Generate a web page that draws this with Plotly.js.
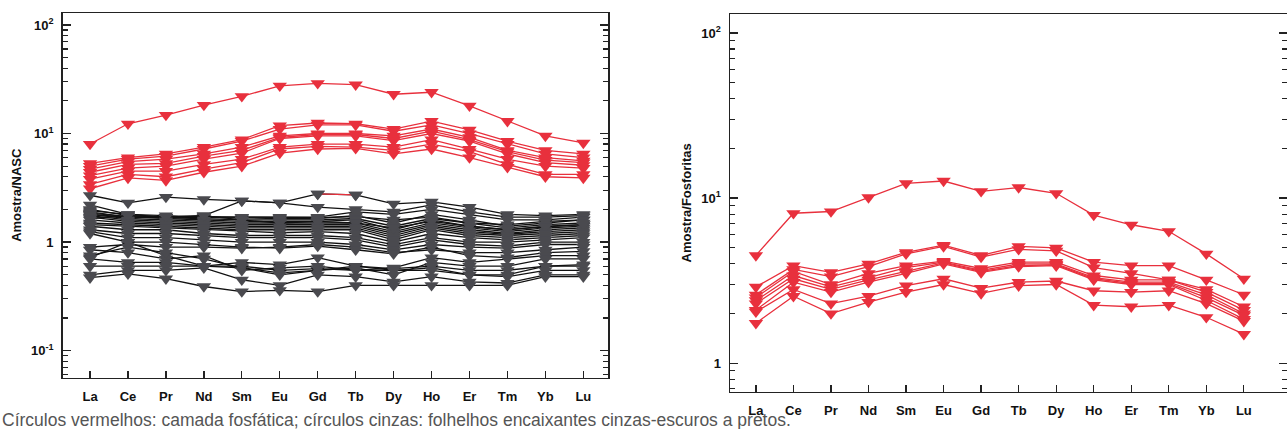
<!DOCTYPE html>
<html>
<head>
<meta charset="utf-8">
<script src="https://cdn.plot.ly/plotly-3.0.1.min.js"></script>
<style>
html,body{margin:0;padding:0;background:#fff;}
#chart{width:1287px;height:429px;}
</style>
</head>
<body>
<div id="chart"></div>
<script>
// Rare-earth elements (x categories)
const elements = ["La","Ce","Pr","Nd","Sm","Eu","Gd","Tb","Dy","Ho","Er","Tm","Yb","Lu"];

// Left panel: Amostra/NASC — phosphatic layer (red)
const nascRed1 = [8.0, 12.3, 14.8, 18.3, 22.0, 27.5, 29.0, 28.2, 23.0, 24.0, 18.0, 13.0, 9.5, 8.2];
const nascRed2 = [5.3, 6.0, 6.5, 7.5, 8.8, 11.8, 12.5, 12.3, 11.0, 13.0, 10.8, 8.5, 7.0, 6.5];
const nascRed3 = [5.0, 5.8, 6.2, 7.2, 8.5, 11.0, 12.0, 12.0, 10.5, 12.0, 10.0, 8.0, 6.5, 6.0];
const nascRed4 = [4.7, 5.5, 5.8, 6.5, 7.5, 9.5, 10.0, 10.0, 9.5, 11.0, 9.2, 7.0, 6.0, 5.6];
const nascRed5 = [4.4, 5.2, 5.3, 6.2, 7.0, 9.2, 9.8, 9.8, 9.0, 10.5, 8.8, 6.8, 5.7, 5.4];
const nascRed6 = [4.1, 4.8, 5.0, 5.8, 6.6, 9.0, 9.5, 9.5, 8.6, 10.0, 8.5, 6.5, 5.4, 5.1];
const nascRed7 = [3.8, 4.5, 4.5, 5.2, 5.8, 7.5, 8.0, 8.0, 7.5, 8.8, 7.2, 5.8, 5.0, 4.8];
const nascRed8 = [3.4, 4.2, 4.0, 4.7, 5.4, 7.2, 7.6, 7.5, 7.0, 8.0, 6.8, 5.2, 4.2, 4.2];
const nascRed9 = [3.1, 3.9, 3.7, 4.4, 5.0, 6.6, 7.2, 7.3, 6.5, 7.2, 6.0, 4.9, 4.0, 3.9];
const nascRedSeg = [null, null, null, null, null, null, 2.78, 2.72, null, null, null, null, null, null];

// Left panel: host shales (grey)
const nascGrey01 = [2.7, 2.3, 2.6, 2.47, 2.4, 2.3, 2.78, 2.72, 2.25, 2.35, 2.1, 1.8, 1.75, 1.8];
const nascGrey02 = [1.8, 1.7, 1.7, 1.75, 2.4, 2.3, 2.1, 2.0, 1.9, 2.2, 1.9, 1.7, 1.7, 1.75];
const nascGrey03 = [2.2, 1.8, 1.75, 1.7, 1.7, 1.7, 1.7, 1.9, 1.8, 2.0, 1.8, 1.6, 1.6, 1.7];
const nascGrey04 = [2.0, 1.75, 1.7, 1.68, 1.65, 1.65, 1.65, 1.75, 1.5, 1.8, 1.6, 1.4, 1.5, 1.6];
const nascGrey05 = [1.95, 1.8, 1.7, 1.72, 1.7, 1.68, 1.68, 1.72, 1.6, 1.7, 1.5, 1.45, 1.55, 1.6];
const nascGrey06 = [1.9, 1.7, 1.68, 1.65, 1.6, 1.6, 1.6, 1.65, 1.4, 1.65, 1.5, 1.35, 1.45, 1.5];
const nascGrey07 = [1.85, 1.72, 1.65, 1.6, 1.55, 1.55, 1.55, 1.6, 1.3, 1.6, 1.4, 1.3, 1.4, 1.45];
const nascGrey08 = [1.8, 1.65, 1.6, 1.55, 1.5, 1.5, 1.5, 1.5, 1.25, 1.5, 1.35, 1.25, 1.35, 1.4];
const nascGrey09 = [1.75, 1.6, 1.55, 1.5, 1.45, 1.45, 1.45, 1.45, 1.2, 1.45, 1.3, 1.2, 1.3, 1.35];
const nascGrey10 = [1.7, 1.55, 1.5, 1.45, 1.4, 1.4, 1.4, 1.4, 1.15, 1.4, 1.25, 1.18, 1.25, 1.3];
const nascGrey11 = [1.65, 1.75, 1.7, 1.75, 1.6, 1.5, 1.55, 1.5, 1.35, 1.55, 1.4, 1.3, 1.38, 1.45];
const nascGrey12 = [1.6, 1.5, 1.45, 1.4, 1.35, 1.35, 1.35, 1.35, 1.1, 1.35, 1.2, 1.15, 1.2, 1.25];
const nascGrey13 = [1.5, 1.45, 1.4, 1.35, 1.3, 1.3, 1.3, 1.3, 1.05, 1.3, 1.15, 1.1, 1.15, 1.2];
const nascGrey14 = [1.45, 1.4, 1.35, 1.3, 1.25, 1.22, 1.25, 1.2, 1.0, 1.2, 1.1, 1.05, 1.1, 1.15];
const nascGrey15 = [1.4, 1.3, 1.3, 1.2, 1.15, 1.15, 1.15, 1.1, 0.95, 1.1, 1.0, 1.0, 1.05, 1.1];
const nascGrey16 = [1.3, 1.2, 1.2, 1.15, 1.1, 1.1, 1.1, 1.05, 0.9, 1.05, 0.95, 0.92, 1.0, 1.0];
const nascGrey17 = [1.25, 1.1, 1.1, 1.05, 1.0, 1.0, 1.0, 0.95, 0.85, 0.95, 0.9, 0.88, 0.95, 0.95];
const nascGrey18 = [1.2, 1.0, 0.75, 0.6, 0.58, 0.52, 0.55, 0.6, 0.55, 0.58, 0.5, 0.5, 0.6, 0.62];
const nascGrey19 = [0.9, 0.95, 0.9, 0.9, 0.88, 0.9, 0.95, 0.9, 0.8, 0.85, 0.8, 0.8, 0.85, 0.9];
const nascGrey20 = [0.72, 1.0, 1.0, 0.95, 0.9, 0.88, 0.92, 0.85, 0.78, 0.9, 0.75, 0.72, 0.8, 0.82];
const nascGrey21 = [0.85, 0.8, 0.7, 0.75, 0.55, 0.58, 0.6, 0.55, 0.58, 0.72, 0.65, 0.7, 0.75, 0.75];
const nascGrey22 = [0.75, 0.9, 0.8, 0.7, 0.58, 0.5, 0.55, 0.58, 0.5, 0.65, 0.6, 0.6, 0.7, 0.7];
const nascGrey23 = [0.7, 0.65, 0.65, 0.6, 0.65, 0.62, 0.72, 0.6, 0.57, 0.6, 0.55, 0.55, 0.6, 0.6];
const nascGrey24 = [0.6, 0.6, 0.6, 0.6, 0.6, 0.55, 0.57, 0.55, 0.55, 0.55, 0.5, 0.48, 0.55, 0.55];
const nascGrey25 = [0.5, 0.55, 0.55, 0.58, 0.45, 0.4, 0.5, 0.48, 0.43, 0.48, 0.43, 0.42, 0.5, 0.5];
const nascGrey26 = [0.47, 0.51, 0.46, 0.39, 0.35, 0.36, 0.35, 0.4, 0.4, 0.4, 0.4, 0.4, 0.48, 0.48];

// Right panel: Amostra/Fosforitas (red)
const fosRed1 = [4.5, 8.1, 8.3, 10.1, 12.3, 12.7, 11.0, 11.6, 10.7, 7.9, 6.9, 6.3, 4.6, 3.25];
const fosRed2 = [2.9, 3.9, 3.55, 4.0, 4.7, 5.2, 4.5, 5.1, 5.0, 4.1, 3.9, 3.9, 3.2, 2.6];
const fosRed3 = [2.6, 3.7, 3.35, 3.85, 4.6, 5.1, 4.4, 4.9, 4.8, 3.8, 3.5, 3.2, 2.8, 2.2];
const fosRed4 = [2.5, 3.6, 3.0, 3.5, 3.9, 4.15, 3.75, 4.1, 4.1, 3.4, 3.2, 3.2, 2.7, 2.1];
const fosRed5 = [2.4, 3.4, 2.9, 3.3, 3.8, 4.1, 3.65, 4.0, 4.0, 3.3, 3.1, 3.1, 2.6, 2.0];
const fosRed6 = [2.3, 3.25, 2.8, 3.2, 3.6, 4.05, 3.6, 3.9, 3.95, 3.25, 3.05, 3.05, 2.5, 1.95];
const fosRed7 = [2.1, 3.1, 2.7, 3.1, 3.5, 4.0, 3.55, 3.85, 3.9, 3.2, 3.0, 3.0, 2.4, 1.85];
const fosRed8 = [2.05, 2.8, 2.3, 2.55, 2.95, 3.25, 2.85, 3.1, 3.15, 2.75, 2.7, 2.75, 2.3, 1.8];
const fosRed9 = [1.75, 2.55, 2.0, 2.35, 2.7, 3.0, 2.65, 2.95, 3.0, 2.25, 2.2, 2.25, 1.9, 1.5];

const caption = "Círculos vermelhos: camada fosfática; círculos cinzas: folhelhos encaixantes cinzas-escuros a pretos.";

const RED = "#e8303d";
const GREYM = "#4a4a4f";
const BLACK = "#111111";

const redLeft = [nascRed1,nascRed2,nascRed3,nascRed4,nascRed5,nascRed6,nascRed7,nascRed8,nascRed9];
const greyLeft = [nascGrey01,nascGrey02,nascGrey03,nascGrey04,nascGrey05,nascGrey06,nascGrey07,nascGrey08,nascGrey09,nascGrey10,nascGrey11,nascGrey12,nascGrey13,nascGrey14,nascGrey15,nascGrey16,nascGrey17,nascGrey18,nascGrey19,nascGrey20,nascGrey21,nascGrey22,nascGrey23,nascGrey24,nascGrey25,nascGrey26];
const redRight = [fosRed1,fosRed2,fosRed3,fosRed4,fosRed5,fosRed6,fosRed7,fosRed8,fosRed9];

const MS = 12.5;
function tr(y, lineColor, markerColor, xa, ya){
  return {x: elements, y: y, type: "scatter", mode: "lines+markers",
    xaxis: xa, yaxis: ya, showlegend: false, hoverinfo: "skip",
    line: {color: lineColor, width: 1.3},
    marker: {symbol: "triangle-down", size: MS, color: markerColor, line: {width: 0}}};
}
const traces = [];
redLeft.forEach(s => traces.push(tr(s, RED, RED, "x", "y")));
greyLeft.forEach(s => traces.push(tr(s, BLACK, GREYM, "x", "y")));
traces.push(tr(nascRedSeg, RED, GREYM, "x", "y"));
redRight.forEach(s => traces.push(tr(s, RED, RED, "x2", "y2")));

const tickFont = {family: "Liberation Sans, Arial, sans-serif", size: 13, color: "#111"};
const titleFont = {family: "Liberation Sans, Arial, sans-serif", size: 13, color: "#111", weight: "bold"};

function xAxis(domain, range, anchor){
  return {domain: domain, type: "category", range: range, anchor: anchor,
    showgrid: false, zeroline: false, showline: true, linecolor: "#222", linewidth: 1.5,
    mirror: true, ticks: "inside", ticklen: 7, tickwidth: 1.3, tickcolor: "#222",
    tickfont: Object.assign({weight: "bold"}, tickFont), ticklabelstandoff: 6,
    fixedrange: true};
}
function yAxis(domain, range, anchor, vals, text, title, standoff){
  return {domain: domain, type: "log", range: range, anchor: anchor,
    showgrid: false, zeroline: false, showline: true, linecolor: "#222", linewidth: 1.5,
    mirror: "allticks", ticks: "inside", ticklen: 8, tickwidth: 1.3, tickcolor: "#222",
    tickvals: vals, ticktext: text,
    tickfont: Object.assign({weight: "bold"}, tickFont), ticklabelstandoff: 5,
    minor: {ticks: "inside", ticklen: 5, tickwidth: 1.2, tickcolor: "#222", dtick: "D1", showgrid: false},
    title: {text: title, font: titleFont, standoff: standoff},
    fixedrange: true};
}

const layout = {
  width: 1287, height: 429,
  margin: {l: 0, r: 0, t: 0, b: 0},
  paper_bgcolor: "#fff", plot_bgcolor: "#fff",
  showlegend: false,
  xaxis: xAxis([62.7/1287, 608/1287], [-0.72, 13.65], "y"),
  yaxis: yAxis([1-377.5/429, 1-13/429], [-1.247, 2.11], "x",
    [0.1, 1, 10, 100], ["10<sup>-1</sup>", "1", "10<sup>1</sup>", "10<sup>2</sup>"], "Amostra/NASC", 6),
  xaxis2: xAxis([730/1287, 1], [-0.69, 14.15], "y2"),
  yaxis2: yAxis([1-391.7/429, 1-14/429], [-0.172, 2.115], "x2",
    [1, 10, 100], ["1", "10<sup>1</sup>", "10<sup>2</sup>"], "Amostra/Fosforitas", 7),
  annotations: [{
    text: caption, xref: "paper", yref: "paper", x: 0, y: 1-420/429,
    xanchor: "left", yanchor: "middle", showarrow: false,
    font: {family: "Liberation Sans, Arial, sans-serif", size: 17.5, color: "#555"}
  }]
};

Plotly.newPlot("chart", traces, layout, {staticPlot: true, displayModeBar: false});
</script>
</body>
</html>
